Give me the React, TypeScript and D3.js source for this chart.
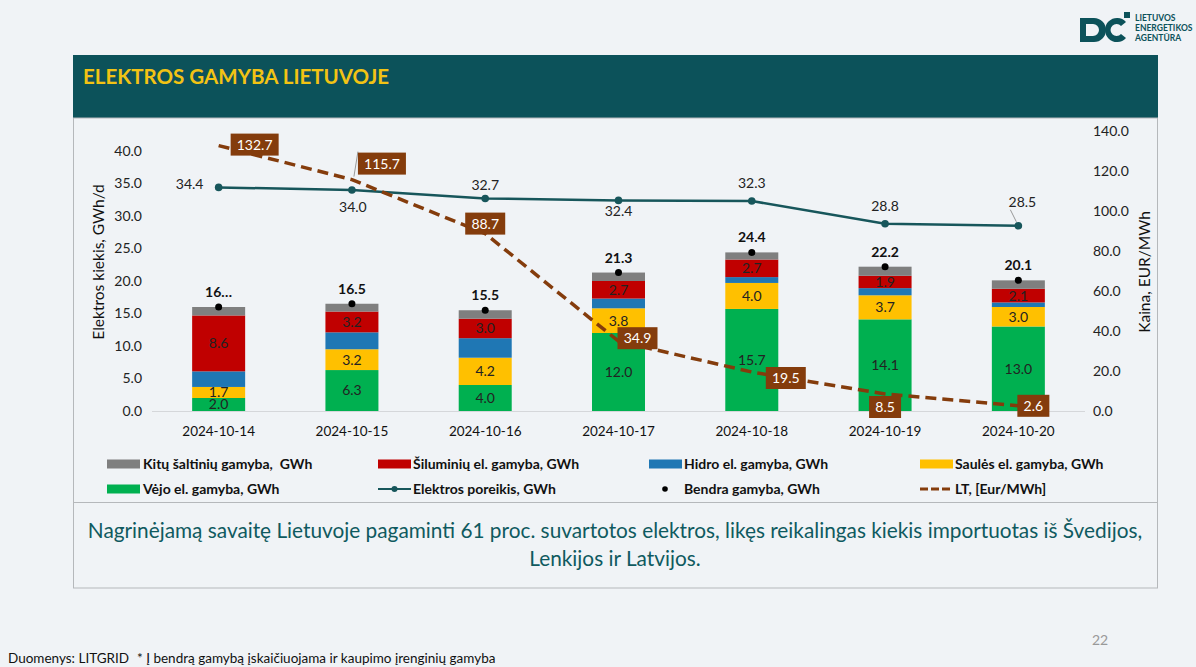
import React from "react";
import * as d3 from "d3";

const dates = ["2024-10-14", "2024-10-15", "2024-10-16", "2024-10-17", "2024-10-18", "2024-10-19", "2024-10-20"];
const wind = [2.0, 6.3, 4.0, 12.0, 15.7, 14.1, 13.0];
const solar = [1.7, 3.2, 4.2, 3.8, 4.0, 3.7, 3.0];
const hydro = [2.4, 2.6, 3.0, 1.5, 0.9, 1.1, 0.7];
const thermal = [8.6, 3.2, 3.0, 2.7, 2.7, 1.9, 2.1];
const other = [1.3, 1.2, 1.3, 1.3, 1.1, 1.4, 1.3];
const totals = [16.0, 16.5, 15.5, 21.3, 24.4, 22.2, 20.1];
const totalLabels = ["16…", "16.5", "15.5", "21.3", "24.4", "22.2", "20.1"];
const demand = [34.4, 34.0, 32.7, 32.4, 32.3, 28.8, 28.5];
const price = [132.7, 115.7, 88.7, 34.9, 19.5, 8.5, 2.6];
const leftTicks = [0, 5, 10, 15, 20, 25, 30, 35, 40];
const rightTicks = [0, 20, 40, 60, 80, 100, 120, 140];

// label placement offsets (layout only)
const priceOff = [[36, -1], [30, -16], [0, -10], [19, -3], [34, 6], [0, 13], [15, 0]];
const demandOff = [[-29, -3], [1, 17], [0, -13], [0, 11], [0, -18], [0, -18], [4, -24]];

const C = {
  other: "#7f7f7f",
  thermal: "#c00000",
  hydro: "#1f77b4",
  solar: "#ffc000",
  wind: "#00b050",
  demand: "#17565b",
  price: "#843c0c",
  bg: "#f0f3f6",
  teal: "#0c525a",
};

const FONT = "Lato, 'Open Sans', sans-serif";

export default function App() {
  const x = d3.scalePoint<string>().domain(dates).range([152, 1085]).padding(0.5);
  const yL = d3.scaleLinear().domain([0, 40]).range([411, 151]);
  const yR = d3.scaleLinear().domain([0, 140]).range([411, 131]);
  const barW = 53;

  const series = [
    { key: "wind", vals: wind, color: C.wind, label: true },
    { key: "solar", vals: solar, color: C.solar, label: true },
    { key: "hydro", vals: hydro, color: C.hydro, label: false },
    { key: "thermal", vals: thermal, color: C.thermal, label: true },
    { key: "other", vals: other, color: C.other, label: false },
  ];
  const table = dates.map((d, i) => {
    const row: any = { date: d };
    series.forEach((s) => (row[s.key] = s.vals[i]));
    return row;
  });
  const stacked = d3.stack().keys(series.map((s) => s.key))(table);

  const demandLine = d3
    .line<number>()
    .x((_, i) => x(dates[i])!)
    .y((v) => yL(v));
  const priceLine = d3
    .line<number>()
    .x((_, i) => x(dates[i])!)
    .y((v) => yR(v));

  const legend = [
    { type: "rect", color: C.other, text: "Kitų šaltinių gamyba,  GWh", sx: 107, tx: 143, y: 464 },
    { type: "rect", color: C.thermal, text: "Šiluminių el. gamyba, GWh", sx: 378, tx: 413, y: 464 },
    { type: "rect", color: C.hydro, text: "Hidro el. gamyba, GWh", sx: 649, tx: 684, y: 464 },
    { type: "rect", color: C.solar, text: "Saulės el. gamyba, GWh", sx: 920, tx: 955, y: 464 },
    { type: "rect", color: C.wind, text: "Vėjo el. gamyba, GWh", sx: 107, tx: 143, y: 489 },
    { type: "line", color: C.demand, text: "Elektros poreikis, GWh", sx: 378, tx: 413, y: 489 },
    { type: "dot", color: "#000", text: "Bendra gamyba, GWh", sx: 649, tx: 684, y: 489 },
    { type: "dash", color: C.price, text: "LT, [Eur/MWh]", sx: 920, tx: 955, y: 489 },
  ];

  return (
    <svg
      width={1196}
      height={667}
      style={{ position: "fixed", left: 0, top: 0, background: C.bg, fontFamily: FONT }}
    >
      <rect x={0} y={0} width={1196} height={667} fill={C.bg} />

      {/* logo */}
      <g fill={C.teal}>
        <path d="M1080 18 h14 a12 12 0 0 1 0 24 h-14 z M1086 24 v12 h7 a6 6 0 0 0 0 -12 z" fillRule="evenodd" />
        <path d="M1126 22 a12 12 0 1 0 0 16 l-5 -4 a6 6 0 1 1 0 -8 z" />
        <rect x={1124} y={12} width={6} height={6} />
        <text x={1135} y={21} fontSize={8.5} fontWeight={700}>LIETUVOS</text>
        <text x={1135} y={31} fontSize={8.5} fontWeight={700}>ENERGETIKOS</text>
        <text x={1135} y={41} fontSize={8.5} fontWeight={700}>AGENTŪRA</text>
      </g>

      {/* title bar */}
      <rect x={73} y={55} width={1085} height={63} fill={C.teal} />
      <text x={83} y={84} fill="#f2c314" fontSize={20.5} fontWeight={700}>ELEKTROS GAMYBA LIETUVOJE</text>

      {/* panel */}
      <rect x={73.5} y={118} width={1084} height={470} fill="none" stroke="#b5b8bb" strokeWidth={1} />
      <line x1={73.5} x2={1157.5} y1={502.5} y2={502.5} stroke="#b5b8bb" />

      {/* baseline */}
      <line x1={152} x2={1085} y1={411.5} y2={411.5} stroke="#d5d7da" />

      {/* left axis */}
      {leftTicks.map((t) => (
        <text key={t} x={142} y={yL(t)} dy="0.35em" textAnchor="end" fontSize={14} fill="#222">
          {t.toFixed(1)}
        </text>
      ))}
      <text transform={`translate(104,262) rotate(-90)`} textAnchor="middle" fontSize={15.5} fill="#111">
        Elektros kiekis, GWh/d
      </text>
      {/* right axis */}
      {rightTicks.map((t) => (
        <text key={t} x={1093} y={yR(t)} dy="0.35em" textAnchor="start" fontSize={14} fill="#222">
          {t.toFixed(1)}
        </text>
      ))}
      <text transform={`translate(1150,272) rotate(-90)`} textAnchor="middle" fontSize={15.5} fill="#111">
        Kaina, EUR/MWh
      </text>

      {/* x labels */}
      {dates.map((d) => (
        <text key={d} x={x(d)} y={436} textAnchor="middle" fontSize={13.5} fill="#111">
          {d}
        </text>
      ))}

      {/* bars */}
      {stacked.map((layer, li) => (
        <g key={layer.key}>
          {layer.map((seg, i) => (
            <rect
              key={i}
              x={x(dates[i])! - barW / 2}
              y={yL(seg[1])}
              width={barW}
              height={yL(seg[0]) - yL(seg[1])}
              fill={series[li].color}
            />
          ))}
          {series[li].label &&
            layer.map((seg, i) => (
              <text
                key={"t" + i}
                x={x(dates[i])}
                y={(yL(seg[0]) + yL(seg[1])) / 2}
                dy="0.35em"
                textAnchor="middle"
                fontSize={14}
                fill="#222"
              >
                {series[li].vals[i].toFixed(1)}
              </text>
            ))}
        </g>
      ))}

      {/* totals */}
      {totals.map((t, i) => (
        <g key={i}>
          <circle cx={x(dates[i])} cy={yL(t)} r={3.5} fill="#000" />
          <text x={x(dates[i])} y={yL(t) - 10} textAnchor="middle" fontSize={14} fontWeight={700} fill="#111">
            {totalLabels[i]}
          </text>
        </g>
      ))}

      {/* demand line */}
      <path d={demandLine(demand)!} fill="none" stroke={C.demand} strokeWidth={2.5} />
      {demand.map((v, i) => (
        <circle key={i} cx={x(dates[i])} cy={yL(v)} r={3.8} fill={C.demand} />
      ))}
      {demand.map((v, i) => {
        const px = x(dates[i])!;
        const py = yL(v);
        const [dx, dy] = demandOff[i];
        return (
          <g key={i}>
            {i === 6 && <line x1={px - 2} y1={py - 4} x2={px - 8} y2={py - 16} stroke="#999" />}
            <text x={px + dx} y={py + dy} dy="0.35em" textAnchor="middle" fontSize={14} fill="#222">
              {v.toFixed(1)}
            </text>
          </g>
        );
      })}

      {/* price line */}
      <path d={priceLine(price)!} fill="none" stroke={C.price} strokeWidth={3.5} strokeDasharray="11 6" />
      {price.map((v, i) => {
        const px = x(dates[i])!;
        const py = yR(v);
        const [dx, dy] = priceOff[i];
        const label = v.toFixed(1);
        const w = label.length * 8 + 8;
        const h = 22;
        const cx = px + dx;
        const cy = py + dy;
        return (
          <g key={i}>
            {i === 1 && (
              <polyline points={`${px + 2},${py - 3} ${px + 6},${cy - 12} ${cx - w / 2},${cy - 12}`} fill="none" stroke="#999" />
            )}
            <rect x={cx - w / 2} y={cy - h / 2} width={w} height={h} fill={C.price} />
            <text x={cx} y={cy} dy="0.35em" textAnchor="middle" fontSize={14} fill="#fff">
              {label}
            </text>
          </g>
        );
      })}

      {/* legend */}
      {legend.map((l, i) => (
        <g key={i}>
          {l.type === "rect" && <rect x={l.sx} y={l.y - 4.5} width={33} height={9} fill={l.color} />}
          {l.type === "line" && (
            <g>
              <line x1={l.sx} x2={l.sx + 33} y1={l.y} y2={l.y} stroke={l.color} strokeWidth={2} />
              <circle cx={l.sx + 16.5} cy={l.y} r={3} fill={l.color} />
            </g>
          )}
          {l.type === "dot" && <circle cx={l.sx + 16} cy={l.y} r={2.8} fill="#000" />}
          {l.type === "dash" && (
            <line x1={l.sx} x2={l.sx + 33} y1={l.y} y2={l.y} stroke={l.color} strokeWidth={3} strokeDasharray="8 3" />
          )}
          <text x={l.tx} y={l.y} dy="0.35em" fontSize={14} fontWeight={700} fill="#111" style={{ whiteSpace: "pre" }}>
            {l.text}
          </text>
        </g>
      ))}

      {/* summary text */}
      <text x={615} y={538} textAnchor="middle" fontSize={20.8} fill="#0f5a5f">
        Nagrinėjamą savaitę Lietuvoje pagaminti 61 proc. suvartotos elektros, likęs reikalingas kiekis importuotas iš Švedijos,
      </text>
      <text x={615} y={566} textAnchor="middle" fontSize={20.8} fill="#0f5a5f">
        Lenkijos ir Latvijos.
      </text>

      {/* footer */}
      <text x={1100} y={645} textAnchor="middle" fontSize={14} fill="#999">22</text>
      <text x={8} y={663} fontSize={13.5} fill="#111">Duomenys: LITGRID</text>
      <text x={137} y={663} fontSize={13.5} fill="#111">* Į bendrą gamybą įskaičiuojama ir kaupimo įrenginių gamyba</text>
    </svg>
  );
}
